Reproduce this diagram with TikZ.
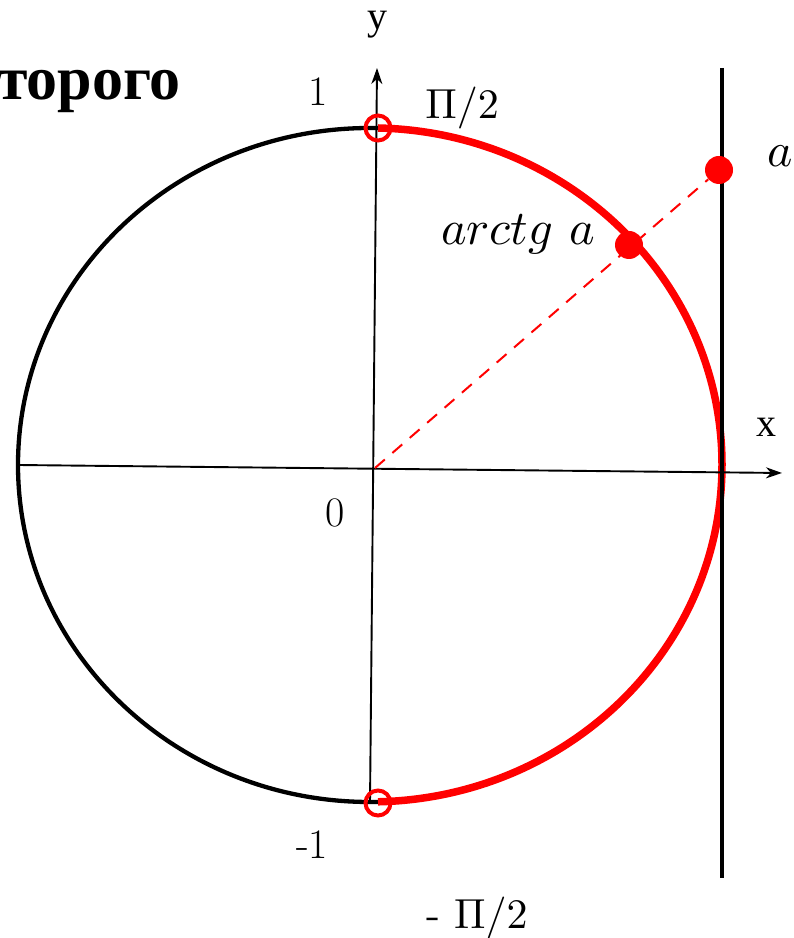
\documentclass[tikz,border=0pt]{standalone}
\usepackage{fontspec}
\usepackage{graphicx}
\newfontfamily\timesf{Liberation Serif}
\usetikzlibrary{arrows.meta}
\newcommand{\mybigmath}[2][4.2]{\scalebox{#1}{#2}}
\begin{document}
\begin{tikzpicture}[x=1pt,y=1pt,
  axisline/.style={line width=1.9, -{Stealth[length=16, width=11, inset=5]}},
  lbl/.style={inner sep=0, font=\fontsize{42}{48}\selectfont},
  tlbl/.style={inner sep=0, font=\timesf\fontsize{40}{46}\selectfont},
  marker/.style={draw=red, line width=4, circle, minimum size=25, inner sep=0},
  dotp/.style={fill=red, circle, minimum size=28, inner sep=0}]
\useasboundingbox (0,0) rectangle (794,938);
% circle
\draw[line width=4.3] (370,473) ellipse [x radius=352, y radius=337];
\draw[red, line width=7.5] (378,810) arc[start angle=88.7, end angle=-88.7, x radius=352, y radius=337];
% vertical tangent line
\draw[line width=4.5] (722,870) -- (722,60);
% axes
\coordinate (xs) at (18,473);
\coordinate (xe) at (782,465);
\coordinate (ys) at (370,135);
\coordinate (ye) at (377,870);
\draw[axisline] (xs) -- (xe);
\draw[axisline] (ys) -- (ye);
% points
\coordinate (O) at (375,470);
\node[marker] (top) at (378,810) {};
\node[marker] (bot) at (378,135) {};
\node[dotp] (pa) at (719,768) {};
\node[dotp] (parc) at (629,693) {};
\draw[red, line width=2, dash pattern=on 13 off 10] (O) -- (pa);
% labels
\node[tlbl] (ly) at (377,913) {y};
\node[tlbl] (lx) at (766,511) {x};
\node[lbl] (l1) at (318,846) {1};
\node[inner sep=0] (lpi) at (462,830) {\mybigmath{$\Pi/2$}};
\node[inner sep=0, anchor=base west] (la) at (767,771) {\mybigmath[4.8]{$a$}};
\node[inner sep=0, anchor=base west] (larc) at (441,693) {\mybigmath[4.85]{$arctg\ a$}};
\node[lbl] (l0) at (335,425) {0};
\node[lbl] (lm1) at (312,93) {-1};
\node[inner sep=0] (lmpi) at (477,20) {\mybigmath{- $\Pi/2$}};
\node[inner sep=0, anchor=base east, font=\timesf\bfseries\fontsize{62}{68}\selectfont] (tt) at (181,838) {торого};
\end{tikzpicture}
\end{document}
